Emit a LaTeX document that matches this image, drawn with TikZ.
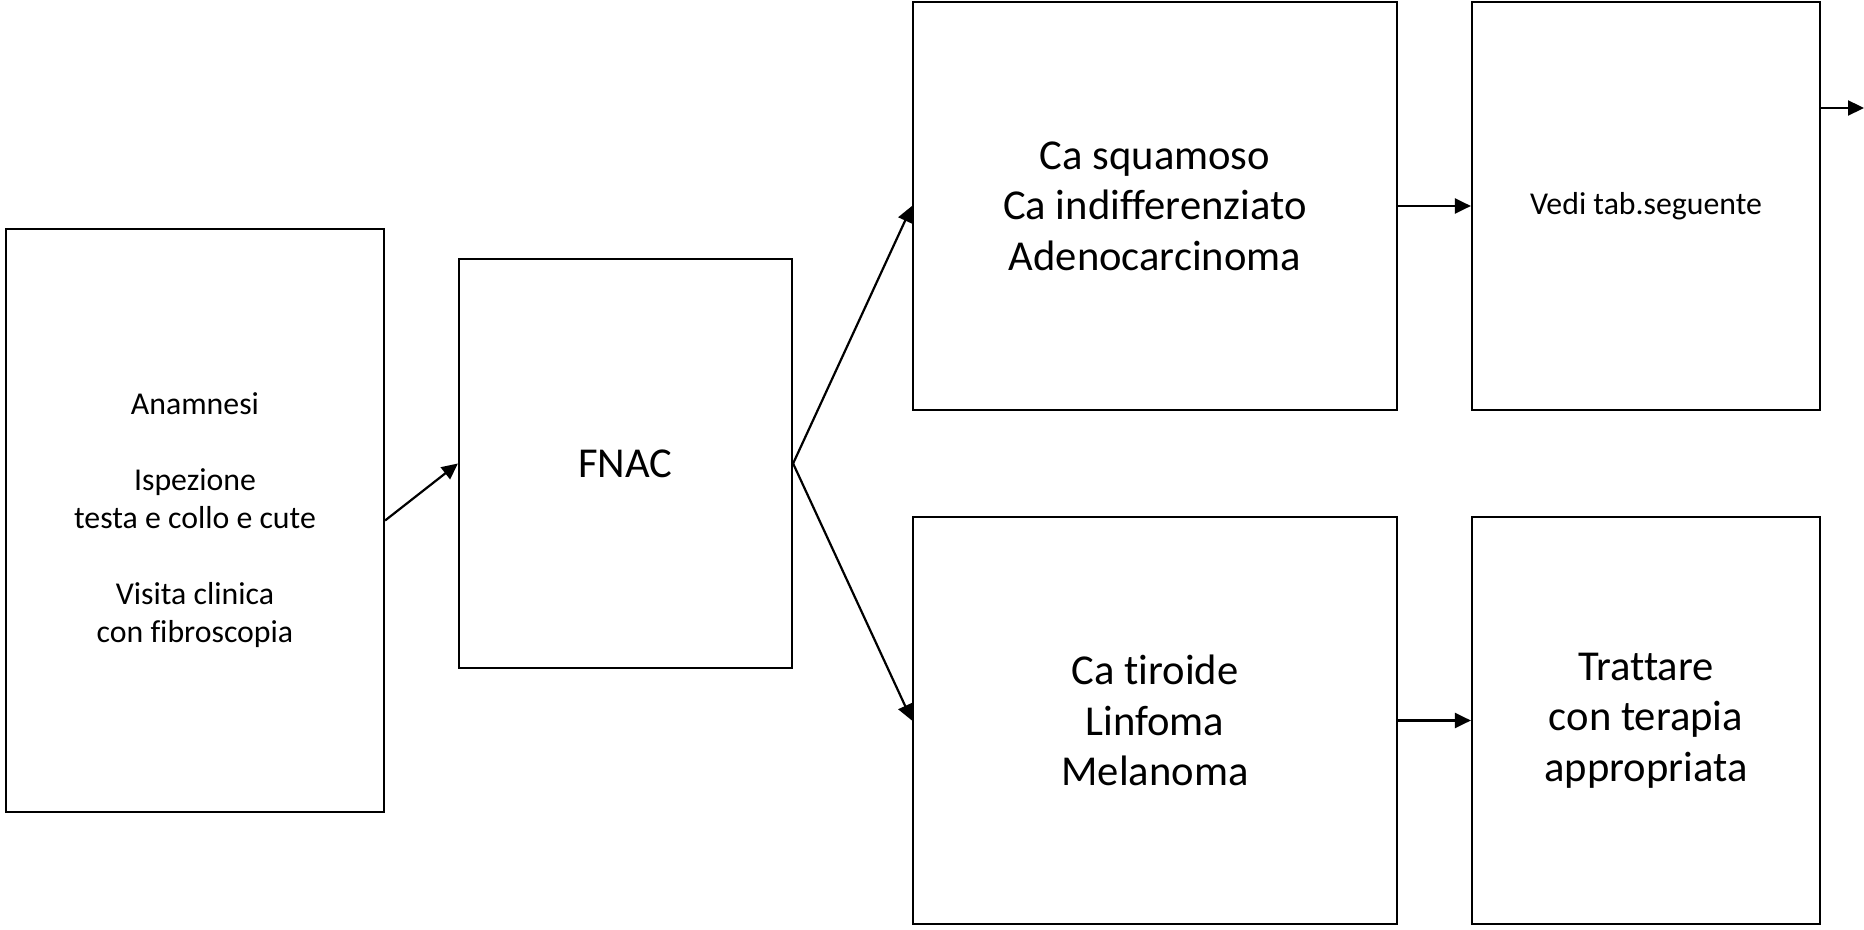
\documentclass[tikz,border=0pt]{standalone}
\usepackage{fontspec}
\setmainfont{Carlito}[Ligatures=CommonOff]
\usetikzlibrary{arrows.meta,positioning}

\tikzset{
  box/.style={draw, line width=1.1pt, inner sep=0pt, align=center},
  smalltxt/.style={font=\fontsize{15.9}{19}\selectfont},
  bigtxt/.style={font=\fontsize{21.3}{25.3}\selectfont},
  link/.style={line width=1.1pt, -{Triangle[length=8pt,width=7.5pt]}}
}

\begin{document}
\begin{tikzpicture}[x=0.5pt,y=-0.5pt]
  \useasboundingbox (0,0) rectangle (1864,930);

  % first column
  \node[box, smalltxt, minimum width=189pt, minimum height=291.5pt] (anamnesi) at (195,520.5)
    {Anamnesi\\[19pt]Ispezione\\testa e collo e cute\\[19pt]Visita clinica\\con fibroscopia};
  \node[box, bigtxt, minimum width=166.5pt, minimum height=204.5pt] (fnac) at (625.5,463.5) {FNAC};

  % diagnosis
  \node[box, bigtxt, minimum width=242pt, minimum height=204pt] (squam) at (1155,206)
    {Ca squamoso\\Ca indifferenziato\\Adenocarcinoma};
  \node[box, bigtxt, minimum width=242pt, minimum height=203.5pt] (tiroide) at (1155,720.5)
    {Ca tiroide\\Linfoma\\Melanoma};

  % next step
  \node[box, smalltxt, minimum width=174pt, minimum height=204pt] (vedi) at (1646,206)
    {Vedi tab.seguente};
  \node[box, bigtxt, minimum width=174pt, minimum height=203.5pt] (tratt) at (1646,720.5)
    {Trattare\\con terapia\\appropriata};

  \coordinate (fuori) at (1864,108);

  % connectors
  \draw[link] (anamnesi.east) -- (fnac.west);
  \draw[link] (fnac.east) -- (squam.west);
  \draw[link] (fnac.east) -- (tiroide.west);
  \draw[link] (squam.east) -- (vedi.west);
  \draw[link] (tiroide.east) -- (tratt.west);
  \draw[link] (vedi.east |- fuori) -- (fuori);

\end{tikzpicture}
\end{document}
